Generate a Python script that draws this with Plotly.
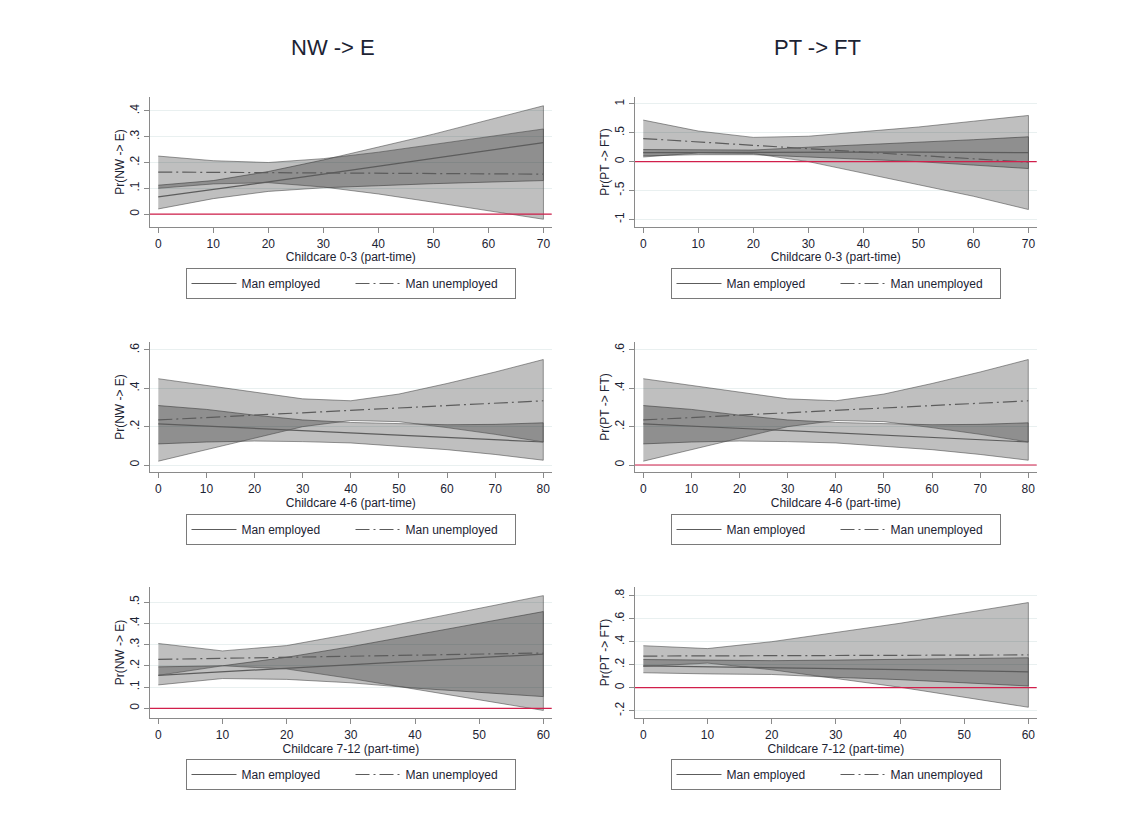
import plotly.graph_objects as go

# ---------------- data ----------------
col_titles = ["NW -> E", "PT -> FT"]
y_titles = ["Pr(NW -> E)", "Pr(PT -> FT)"]
x_titles = ["Childcare 0-3 (part-time)", "Childcare 4-6 (part-time)", "Childcare 7-12 (part-time)"]
series_names = ["Man employed", "Man unemployed"]

x_03 = [0, 10, 20, 30, 40, 50, 60, 70]
x_46 = [0, 10, 20, 30, 40, 50, 60, 70, 80]
x_712 = [0, 10, 20, 30, 40, 50, 60]

# NW -> E, childcare 0-3
a1_emp_mean = [0.067, 0.095, 0.125, 0.155, 0.185, 0.215, 0.245, 0.277]
a1_emp_lo = [0.02, 0.06, 0.088, 0.102, 0.11, 0.118, 0.125, 0.13]
a1_emp_hi = [0.112, 0.13, 0.165, 0.21, 0.26, 0.31, 0.365, 0.42]
a1_une_mean = [0.163, 0.162, 0.161, 0.16, 0.159, 0.158, 0.157, 0.155]
a1_une_lo = [0.1, 0.117, 0.122, 0.105, 0.078, 0.046, 0.014, -0.02]
a1_une_hi = [0.225, 0.207, 0.2, 0.215, 0.24, 0.27, 0.3, 0.33]

# PT -> FT, childcare 0-3
a2_emp_mean = [0.155, 0.16, 0.165, 0.165, 0.165, 0.165, 0.16, 0.155]
a2_emp_lo = [0.1, 0.12, 0.12, 0.08, 0.04, 0.0, -0.06, -0.12]
a2_emp_hi = [0.21, 0.2, 0.2, 0.25, 0.29, 0.33, 0.38, 0.43]
a2_une_mean = [0.4, 0.34, 0.28, 0.22, 0.16, 0.1, 0.05, -0.01]
a2_une_lo = [0.08, 0.15, 0.14, 0.0, -0.2, -0.4, -0.6, -0.83]
a2_une_hi = [0.72, 0.53, 0.42, 0.44, 0.52, 0.6, 0.7, 0.8]

# NW -> E and PT -> FT, childcare 4-6 (identical panels)
b_emp_mean = [0.215, 0.203, 0.191, 0.179, 0.167, 0.156, 0.144, 0.132, 0.12]
b_emp_lo = [0.11, 0.12, 0.125, 0.122, 0.115, 0.098, 0.08, 0.055, 0.025]
b_emp_hi = [0.31, 0.29, 0.26, 0.235, 0.222, 0.215, 0.21, 0.212, 0.22]
b_une_mean = [0.235, 0.248, 0.26, 0.272, 0.285, 0.298, 0.31, 0.322, 0.335]
b_une_lo = [0.02, 0.08, 0.14, 0.2, 0.232, 0.226, 0.195, 0.16, 0.12]
b_une_hi = [0.45, 0.415, 0.38, 0.345, 0.335, 0.37, 0.425, 0.485, 0.55]

# NW -> E, childcare 7-12
c1_emp_mean = [0.155, 0.172, 0.188, 0.205, 0.222, 0.238, 0.255]
c1_emp_lo = [0.11, 0.14, 0.136, 0.12, 0.095, 0.075, 0.055]
c1_emp_hi = [0.195, 0.2, 0.24, 0.29, 0.345, 0.4, 0.455]
c1_une_mean = [0.23, 0.235, 0.24, 0.245, 0.25, 0.255, 0.26]
c1_une_lo = [0.155, 0.2, 0.185, 0.14, 0.09, 0.04, -0.01]
c1_une_hi = [0.305, 0.27, 0.295, 0.35, 0.41, 0.47, 0.53]

# PT -> FT, childcare 7-12
c2_emp_mean = [0.19, 0.18, 0.175, 0.165, 0.158, 0.148, 0.138]
c2_emp_lo = [0.13, 0.12, 0.115, 0.09, 0.07, 0.045, 0.015]
c2_emp_hi = [0.245, 0.24, 0.235, 0.24, 0.245, 0.25, 0.26]
c2_une_mean = [0.275, 0.277, 0.278, 0.28, 0.282, 0.283, 0.285]
c2_une_lo = [0.185, 0.214, 0.156, 0.08, 0.004, -0.084, -0.17]
c2_une_hi = [0.365, 0.34, 0.4, 0.48, 0.56, 0.65, 0.74]

# tick labels
y_ticks_a1 = [0, 0.1, 0.2, 0.3, 0.4]
y_labels_a1 = ["0", ".1", ".2", ".3", ".4"]
y_ticks_a2 = [-1, -0.5, 0, 0.5, 1]
y_labels_a2 = ["-1", "-.5", "0", ".5", "1"]
y_ticks_b = [0, 0.2, 0.4, 0.6]
y_labels_b = ["0", ".2", ".4", ".6"]
y_ticks_c1 = [0, 0.1, 0.2, 0.3, 0.4, 0.5]
y_labels_c1 = ["0", ".1", ".2", ".3", ".4", ".5"]
y_ticks_c2 = [-0.2, 0, 0.2, 0.4, 0.6, 0.8]
y_labels_c2 = ["-.2", "0", ".2", ".4", ".6", ".8"]

ref_value = 0  # reference line at zero

# ---------------- styling / layout ----------------
OFF = 8  # page body margin
W, H = 1134 - OFF, 825 - OFF
FONT = "Liberation Sans, Arial, sans-serif"
TXT = "#1c2333"
BAND_FILL = "rgba(0,0,0,0.25)"
BAND_LINE = "rgba(70,70,70,0.55)"
MEAN_COLOR = "#5c5c5c"
UNE_DASH = "14px,4px,2px,4px"
RED = "#d11f4b"


def px_x(v):
    return (v - OFF) / W


def px_y(v):
    return 1 - (v - OFF) / H


panels = [
    dict(x=x_03, emp=(a1_emp_mean, a1_emp_lo, a1_emp_hi), une=(a1_une_mean, a1_une_lo, a1_une_hi),
         yt=y_ticks_a1, yl=y_labels_a1, xr=[-1.5, 71.5], yr=[-0.05, 0.454], row=0, col=0, ref=True),
    dict(x=x_03, emp=(a2_emp_mean, a2_emp_lo, a2_emp_hi), une=(a2_une_mean, a2_une_lo, a2_une_hi),
         yt=y_ticks_a2, yl=y_labels_a2, xr=[-1.5, 71.5], yr=[-1.133, 1.12], row=0, col=1, ref=True),
    dict(x=x_46, emp=(b_emp_mean, b_emp_lo, b_emp_hi), une=(b_une_mean, b_une_lo, b_une_hi),
         yt=y_ticks_b, yl=y_labels_b, xr=[-1.73, 81.75], yr=[-0.038, 0.643], row=1, col=0, ref=False),
    dict(x=x_46, emp=(b_emp_mean, b_emp_lo, b_emp_hi), une=(b_une_mean, b_une_lo, b_une_hi),
         yt=y_ticks_b, yl=y_labels_b, xr=[-1.73, 81.75], yr=[-0.038, 0.643], row=1, col=1, ref=True),
    dict(x=x_712, emp=(c1_emp_mean, c1_emp_lo, c1_emp_hi), une=(c1_une_mean, c1_une_lo, c1_une_hi),
         yt=y_ticks_c1, yl=y_labels_c1, xr=[-1.3, 61.3], yr=[-0.047, 0.572], row=2, col=0, ref=True),
    dict(x=x_712, emp=(c2_emp_mean, c2_emp_lo, c2_emp_hi), une=(c2_une_mean, c2_une_lo, c2_une_hi),
         yt=y_ticks_c2, yl=y_labels_c2, xr=[-1.3, 61.3], yr=[-0.266, 0.878], row=2, col=1, ref=True),
]

# pixel boxes of plot regions (screen coordinates)
col_px = [(150, 551.7), (635, 1036.7)]
row_px = [(97, 227), (341.7, 472.3), (586.7, 718.3)]
legend_center_px = [350.5, 835.5]
legend_top_px = [268, 514, 759]

fig = go.Figure()
layout = dict(
    width=W, height=H, margin=dict(l=0, r=0, t=0, b=0),
    paper_bgcolor="white", plot_bgcolor="white",
    font=dict(family=FONT, color=TXT, size=12),
    shapes=[], annotations=[],
)

for i, p in enumerate(panels):
    k = i + 1
    sfx = "" if k == 1 else str(k)
    xa, ya = "x" + sfx, "y" + sfx
    leg = "legend" + sfx
    x = p["x"]
    for mean, lo, hi in (p["emp"], p["une"]):
        fig.add_trace(go.Scatter(
            x=list(x) + list(x)[::-1], y=list(hi) + list(lo)[::-1],
            fill="toself", fillcolor=BAND_FILL, mode="lines",
            line=dict(color=BAND_LINE, width=1), showlegend=False,
            hoverinfo="skip", xaxis=xa, yaxis=ya))
    fig.add_trace(go.Scatter(x=x, y=p["emp"][0], mode="lines", name=series_names[0],
                             line=dict(color=MEAN_COLOR, width=1.2), legend=leg,
                             xaxis=xa, yaxis=ya))
    fig.add_trace(go.Scatter(x=x, y=p["une"][0], mode="lines", name=series_names[1],
                             line=dict(color=MEAN_COLOR, width=1.2, dash=UNE_DASH), legend=leg,
                             xaxis=xa, yaxis=ya))

    x0, x1 = col_px[p["col"]]
    yt, yb = row_px[p["row"]]
    axis_common = dict(showline=True, linecolor="#8a8a8a", linewidth=1.2,
                       ticks="outside", ticklen=5, tickcolor="#8a8a8a", tickwidth=1,
                       zeroline=False, tickfont=dict(size=12, color=TXT, family=FONT))
    layout["xaxis" + sfx] = dict(
        domain=[px_x(x0), px_x(x1)], anchor=ya, range=p["xr"], dtick=10, tick0=0,
        showgrid=False, title=dict(text=x_titles[p["row"]], standoff=0,
                                   font=dict(size=12, color=TXT, family=FONT)),
        **axis_common)
    layout["yaxis" + sfx] = dict(
        domain=[px_y(yb), px_y(yt)], anchor=xa, range=p["yr"],
        tickmode="array", tickvals=p["yt"], ticktext=p["yl"], tickangle=-90,
        showgrid=True, gridcolor="#e9f0f0", gridwidth=1,
        title=dict(text=y_titles[p["col"]], standoff=0,
                   font=dict(size=12, color=TXT, family=FONT)),
        **axis_common)
    if p["ref"]:
        layout["shapes"].append(dict(type="line", xref=xa + " domain", yref=ya,
                                     x0=0, x1=1, y0=ref_value, y1=ref_value,
                                     line=dict(color=RED, width=1.2), layer="above"))
    layout[leg] = dict(
        orientation="h", x=px_x(legend_center_px[p["col"]]), xanchor="center",
        y=px_y(legend_top_px[p["row"]]), yanchor="top",
        bordercolor="#7a7a7a", borderwidth=1, bgcolor="white",
        entrywidth=104, itemwidth=45, tracegroupgap=0,
        font=dict(size=12, color=TXT, family=FONT))

for c, t in enumerate(col_titles):
    cx = (col_px[c][0] + col_px[c][1]) / 2 - 18
    layout["annotations"].append(dict(text=t, x=px_x(cx), y=px_y(48), xref="paper", yref="paper",
                                      showarrow=False, xanchor="center", yanchor="middle",
                                      font=dict(size=22, color=TXT, family=FONT)))

fig.update_layout(**layout)
fig.write_html("out.html")
